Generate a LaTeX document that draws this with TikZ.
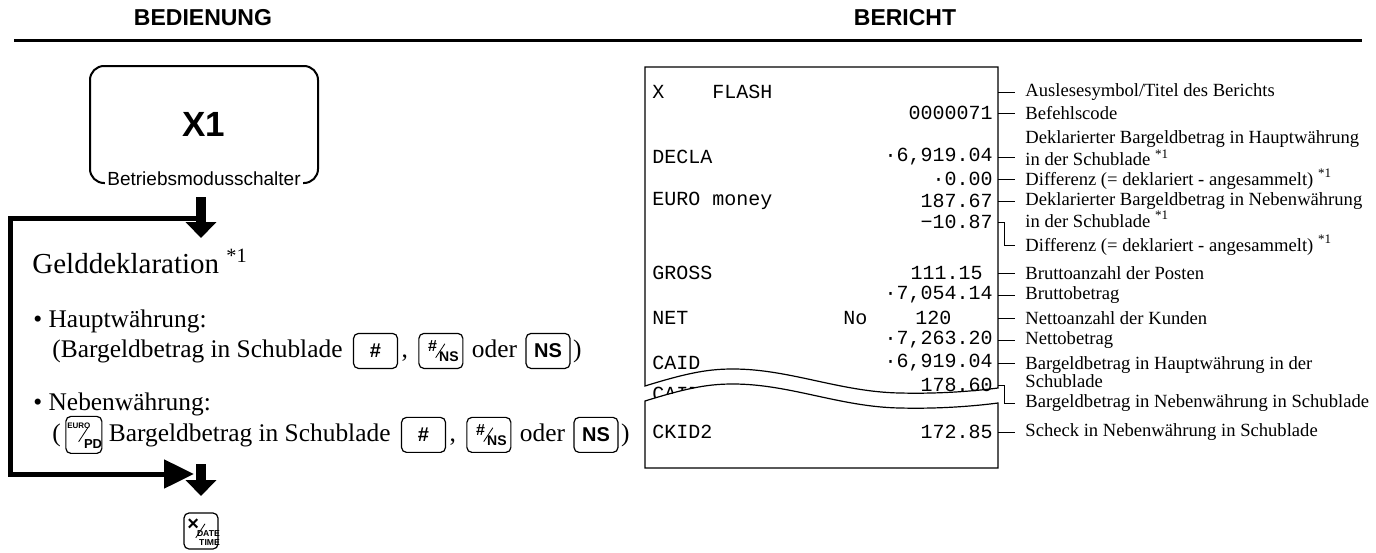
\documentclass[tikz,border=0pt]{standalone}
\usepackage{fontspec}
\setmainfont{Liberation Serif}
\setsansfont{Liberation Sans}
\setmonofont{Liberation Mono}
\usetikzlibrary{arrows.meta, positioning, calc}
\tikzset{
  headtxt/.style={font=\sffamily\bfseries\fontsize{11.5}{13}\selectfont, inner sep=0pt},
  bodytxt/.style={font=\fontsize{12.7}{15}\selectfont, inner sep=0pt},
  keycap/.style={draw, line width=0.6pt, rounded corners=2.5pt, minimum width=22pt, minimum height=17.5pt, inner sep=1pt, font=\sffamily\bfseries\fontsize{10}{10}\selectfont},
  keyup/.style={inner sep=0pt, font=\sffamily\bfseries\fontsize{8}{8}\selectfont},
  keylow/.style={inner sep=0pt, font=\sffamily\bfseries\fontsize{7}{7}\selectfont, align=right},
  keyslash/.style={line width=0.4pt},
  slip/.style={font=\ttfamily\fontsize{10}{10}\selectfont, inner sep=0pt},
  note/.style={font=\fontsize{9.3}{9}\selectfont, align=left, inner xsep=5pt, inner ysep=0pt, anchor=west},
  tick/.style={line width=0.5pt},
  slipline/.style={line width=0.6pt, fill=white},
  flowline/.style={line width=2.5pt},
  bigarrow/.style={line width=5pt, -{Triangle[length=8pt, width=15pt]}}
}
% upper text, slash and lower text inside an empty key
\newcommand{\splitkey}[5]{%
  \node[keyup, #4] (#1up) at ([shift={(-4.2pt,2.6pt)}]#1.center) {#2};
  \node[keylow, #5] (#1low) at ([shift={(4pt,-3pt)}]#1.center) {#3};
  \draw[keyslash] ([shift={(-2.6pt,-3.4pt)}]#1.center) -- ([shift={(2pt,3.6pt)}]#1.center);
}

\begin{document}
\begin{tikzpicture}[x=0.5pt, y=-0.5pt,
  modebox/.style={draw, line width=1pt, rounded corners=7pt, minimum width=114pt, minimum height=58.5pt, font=\sffamily\bfseries\fontsize{17.5}{18}\selectfont},
  modelabel/.style={fill=white, inner xsep=1pt, inner ysep=1pt, font=\sffamily\fontsize{9.5}{10}\selectfont}
]
\useasboundingbox (0,0) rectangle (1376,552);

% headings
\node[headtxt] (hbed) at (203,18) {BEDIENUNG};
\node[headtxt] (hber) at (905,18) {BERICHT};
\coordinate (ruleL) at (14,40);
\coordinate (ruleR) at (1362,40);
\draw[line width=1.5pt] (ruleL) -- (ruleR);

% mode switch
\node[modebox] (mode) at (204,124.5) {X1};
\node[modelabel, anchor=base] (modename) at ([yshift=-0.5pt]mode.south) {Betriebsmodusschalter};

\coordinate (a1top) at (201,197);
\coordinate (a1tip) at (201,238);
\coordinate (loopin) at (196,218);
\coordinate (loopout) at (194,474);
\coordinate (a2top) at (201,464);
\coordinate (a2tip) at (201,496);
\draw[flowline, -{Triangle[length=15pt, width=14pt]}] (loopin) -| (10,474) -- (loopout);
\draw[bigarrow] (a1top) -- (a1tip);
\draw[bigarrow] (a2top) -- (a2tip);

% operation text
\node[bodytxt, anchor=base west, font=\fontsize{14.5}{16}\selectfont] (gdecl) at (32,273) {Gelddeklaration \textsuperscript{*1}};
\node[bodytxt, anchor=base west] (haupt) at (33,327) {• Hauptwährung:};
\node[bodytxt, anchor=base west] (hl) at (52,357) {(Bargeldbetrag in Schublade};
\node[keycap, right=5pt of hl] (hk1) {\#};
\node[bodytxt, anchor=base west] (hc) at ([xshift=1.5pt]hk1.east |- hl.base) {,};
\node[keycap, anchor=west] (hk2) at ([xshift=5pt]hc.east |- hk1.east) {};
\splitkey{hk2}{\#}{NS}{}{}
\node[bodytxt, anchor=base west] (hoder) at ([xshift=4pt]hk2.east |- hl.base) {oder};
\node[keycap, anchor=west] (hk3) at ([xshift=4pt]hoder.east |- hk1.east) {NS};
\node[bodytxt, anchor=base west] (hend) at ([xshift=1pt]hk3.east |- hl.base) {)};

\node[bodytxt, anchor=base west] (neben) at (33,410) {• Nebenwährung:};
\node[bodytxt, anchor=base west] (nl0) at (52,441) {(};
\node[keycap, right=2pt of nl0, minimum width=18pt, minimum height=18.5pt] (nk0) {};
\splitkey{nk0}{EURO}{PD}{font=\sffamily\bfseries\fontsize{4}{4}\selectfont, xshift=1.7pt, yshift=2pt}{font=\sffamily\bfseries\fontsize{6.5}{6.5}\selectfont, xshift=0.6pt, yshift=-1.6pt}
\node[bodytxt, anchor=base west] (nl) at ([xshift=3pt]nk0.east |- nl0.base) {Bargeldbetrag in Schublade};
\node[keycap, anchor=west] (nk1) at ([xshift=5pt]nl.east |- nk0.east) {\#};
\node[bodytxt, anchor=base west] (nc) at ([xshift=1.5pt]nk1.east |- nl.base) {,};
\node[keycap, anchor=west] (nk2) at ([xshift=5pt]nc.east |- nk1.east) {};
\splitkey{nk2}{\#}{NS}{}{}
\node[bodytxt, anchor=base west] (noder) at ([xshift=4pt]nk2.east |- nl.base) {oder};
\node[keycap, anchor=west] (nk3) at ([xshift=4pt]noder.east |- nk1.east) {NS};
\node[bodytxt, anchor=base west] (nend) at ([xshift=1pt]nk3.east |- nl.base) {)};

\node[keycap, minimum width=17pt, minimum height=18pt] (kdate) at (201,531) {};
\splitkey{kdate}{×}{DATE\\TIME}{font=\sffamily\bfseries\fontsize{10}{10}\selectfont, xshift=0.3pt, yshift=0.5pt}{font=\sffamily\bfseries\fontsize{4.3}{4.6}\selectfont, xshift=-0.3pt, yshift=-0.5pt}

% receipt
\draw[slipline] (645,386) -- (645,67) -- (998,67) -- (998,388) .. controls (975,391) and (940,394) .. (900,393) .. controls (840,392) and (790,369) .. (733,369) .. controls (710,369) and (690,372) .. (645,386) -- cycle;
\draw[slipline] (645,401) .. controls (690,387) and (710,384) .. (733,384) .. controls (790,384) and (840,407) .. (900,408) .. controls (940,409) and (975,406) .. (998,403) -- (998,468) -- (645,468) -- cycle;
\begin{scope}
\clip (645,386) .. controls (690,372) and (710,369) .. (733,369) .. controls (790,369) and (840,392) .. (900,393) .. controls (940,394) and (975,391) .. (998,388) -- (998,403) .. controls (975,406) and (940,409) .. (900,408) .. controls (840,407) and (790,384) .. (733,384) .. controls (710,384) and (690,387) .. (645,401) -- cycle;
\node[slip, anchor=west] (tcaidtwo) at (652,394) {CAID2};
\end{scope}
\coordinate (redge) at (998,67);

\node[slip, anchor=west] (txflash) at (652,92) {X\ \ \ \ FLASH};
\node[slip, anchor=west] (tdecla) at (652,157) {DECLA};
\node[slip, anchor=west] (teuro) at (652,201) {EURO money};
\node[slip, anchor=west] (tgross) at (652,273) {GROSS};
\node[slip, anchor=west] (tnet) at (652,318) {NET};
\node[slip, anchor=west] (tno) at (843,318) {No};
\node[slip, anchor=west] (tcaid) at (652,363) {CAID};
\node[slip, anchor=west] (tckid) at (652,432) {CKID2};

\node[slip, anchor=east] (ncode) at (993,113) {0000071};
\node[slip, anchor=east] (ndecla) at (993,157) {·6,919.04};
\node[slip, anchor=east] (ndiff) at (993,179) {·0.00};
\node[slip, anchor=east] (neuro) at (993,201) {187.67};
\node[slip, anchor=east] (ndiffeuro) at (993,222) {−10.87};
\node[slip, anchor=east] (ngross) at (983,273) {111.15};
\node[slip, anchor=east] (ngrossamt) at (993,295) {·7,054.14};
\node[slip, anchor=west] (nnet) at (915,318) {120};
\node[slip, anchor=east] (nnetamt) at (993,340) {·7,263.20};
\node[slip, anchor=east] (ncaid) at (993,363) {·6,919.04};
\node[slip, anchor=east] (ncaidtwo) at (993,385) {178.60};
\node[slip, anchor=east] (nckid) at (993,432) {172.85};

% descriptions
\node[note] (l1) at (1015,92) {Auslesesymbol/Titel des Berichts};
\node[note] (l2) at (1015,113) {Befehlscode};
\node[note] (l3) at (1015,148.5) {Deklarierter Bargeldbetrag in Hauptwährung\\in der Schublade \textsuperscript{*1}};
\node[note] (l4) at (1015,179) {Differenz (= deklariert - angesammelt) \textsuperscript{*1}};
\node[note] (l5) at (1015,210) {Deklarierter Bargeldbetrag in Nebenwährung\\in der Schublade \textsuperscript{*1}};
\node[note] (l6) at (1015,245) {Differenz (= deklariert - angesammelt) \textsuperscript{*1}};
\node[note] (l7) at (1015,273) {Bruttoanzahl der Posten};
\node[note] (l8) at (1015,295) {Bruttobetrag};
\node[note] (l9) at (1015,318) {Nettoanzahl der Kunden};
\node[note] (l10) at (1015,340) {Nettobetrag};
\node[note] (l11) at (1015,372) {Bargeldbetrag in Hauptwährung in der\\Schublade};
\node[note] (l12) at (1015,403) {Bargeldbetrag in Nebenwährung in Schublade};
\node[note] (l13) at (1015,432) {Scheck in Nebenwährung in Schublade};

\draw[tick] (redge |- txflash) -- (l1.west |- txflash);
\draw[tick] (redge |- ncode) -- (l2.west |- ncode);
\draw[tick] (redge |- ndecla) -- (l3.west |- ndecla);
\draw[tick] (redge |- ndiff) -- (l4.west |- ndiff);
\draw[tick] (redge |- neuro) -- (l5.west |- neuro);
\draw[tick] (redge |- ndiffeuro) -- ++(6,0) |- (l6.west);
\draw[tick] (redge |- ngross) -- (l7.west |- ngross);
\draw[tick] (redge |- ngrossamt) -- (l8.west |- ngrossamt);
\draw[tick] (redge |- nnet) -- (l9.west |- nnet);
\draw[tick] (redge |- nnetamt) -- (l10.west |- nnetamt);
\draw[tick] (redge |- ncaid) -- (l11.west |- ncaid);
\draw[tick] (redge |- ncaidtwo) -- ++(6,0) |- (l12.west);
\draw[tick] (redge |- nckid) -- (l13.west |- nckid);
\end{tikzpicture}
\end{document}
